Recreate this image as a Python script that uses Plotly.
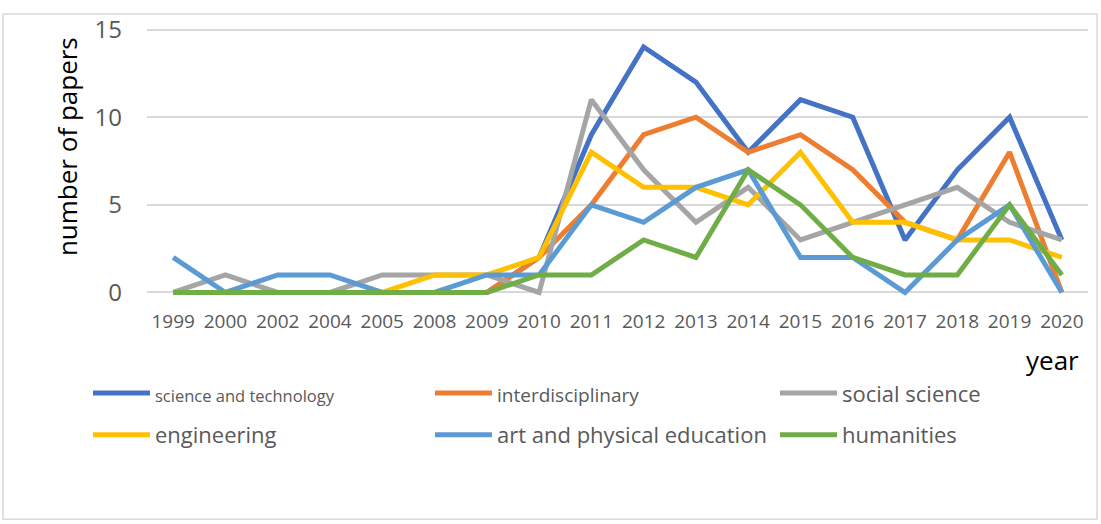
import plotly.graph_objects as go

years = ["1999", "2000", "2002", "2004", "2005", "2008", "2009", "2010", "2011",
         "2012", "2013", "2014", "2015", "2016", "2017", "2018", "2019", "2020"]

science_tech = [0, 0, 0, 0, 0, 0, 0, 2, 9, 14, 12, 8, 11, 10, 3, 7, 10, 3]
interdisciplinary = [0, 0, 0, 0, 0, 0, 0, 2, 5, 9, 10, 8, 9, 7, 4, 3, 8, 0]
social_science = [0, 1, 0, 0, 1, 1, 1, 0, 11, 7, 4, 6, 3, 4, 5, 6, 4, 3]
engineering = [0, 0, 0, 0, 0, 1, 1, 2, 8, 6, 6, 5, 8, 4, 4, 3, 3, 2]
art_pe = [2, 0, 1, 1, 0, 0, 1, 1, 5, 4, 6, 7, 2, 2, 0, 3, 5, 0]
humanities = [0, 0, 0, 0, 0, 0, 0, 1, 1, 3, 2, 7, 5, 2, 1, 1, 5, 1]

series = [
    ("<span style='font-size:16.5px'>science and technology</span>", science_tech, "#4472C4"),
    ("<span style='font-size:19px'>interdisciplinary</span>", interdisciplinary, "#ED7D31"),
    ("social science", social_science, "#A5A5A5"),
    ("engineering", engineering, "#FFC000"),
    ("art and physical education", art_pe, "#5B9BD5"),
    ("humanities", humanities, "#70AD47"),
]

FONT = "Open Sans"
W, H = 1101, 524
L, R, T, B = 147, 13, 24, 228
PW, PH = W - L - R, H - T - B


def px(x):
    return (x - L) / PW


def py(y):
    return (H - B - y) / PH


# legend slot pixel positions (left edge, vertical centre)
legend_slots = [(88, 394), (430, 394), (775, 394),
                (88, 436), (430, 436), (775, 436)]

fig = go.Figure()
legend_layout = {}
for i, (name, vals, color) in enumerate(series):
    key = "legend" if i == 0 else f"legend{i + 1}"
    fig.add_trace(go.Scatter(
        x=years, y=vals, name=name, mode="lines",
        line=dict(color=color, width=5),
        legend=key,
    ))
    lx, ly = legend_slots[i]
    legend_layout[key] = dict(
        x=px(lx), y=py(ly), xanchor="left", yanchor="middle",
        orientation="h", itemwidth=57,
        font=dict(family=FONT, size=22, color="#595959"),
        bgcolor="rgba(0,0,0,0)", borderwidth=0,
    )

fig.update_layout(
    width=W, height=H,
    margin=dict(l=L, r=R, t=T, b=B, pad=0),
    paper_bgcolor="white", plot_bgcolor="white",
    font=dict(family=FONT),
    showlegend=True,
    xaxis=dict(
        type="category", range=[-0.5, 17.5],
        showgrid=False, zeroline=False, showline=False,
        ticks="", tickfont=dict(family=FONT, size=19, color="#595959"),
        ticklabelstandoff=12,
    ),
    yaxis=dict(
        range=[-0.2, 15.2], tickvals=[0, 5, 10, 15],
        showgrid=True, gridcolor="#D9D9D9", gridwidth=1.5,
        zeroline=False, showline=False, ticks="",
        tickfont=dict(family=FONT, size=24, color="#595959"),
        ticklabelstandoff=24,
    ),
    annotations=[
        dict(text="number of papers", xref="paper", yref="paper",
             x=px(67), y=py(146), textangle=-90, showarrow=False,
             xanchor="center", yanchor="middle",
             font=dict(family=FONT, size=26, color="black")),
        dict(text="year", xref="paper", yref="paper",
             x=px(1052), y=py(360), showarrow=False,
             xanchor="center", yanchor="middle",
             font=dict(family=FONT, size=26, color="black")),
    ],
    shapes=[
        dict(type="rect", xref="paper", yref="paper",
             x0=px(3), x1=px(1097), y0=py(521), y1=py(12),
             line=dict(color="#D9D9D9", width=1.5), fillcolor="rgba(0,0,0,0)",
             layer="below"),
    ],
    **legend_layout,
)

fig.write_html("out.html", config={"displayModeBar": False},
               post_script="document.body.style.margin='0px';")
